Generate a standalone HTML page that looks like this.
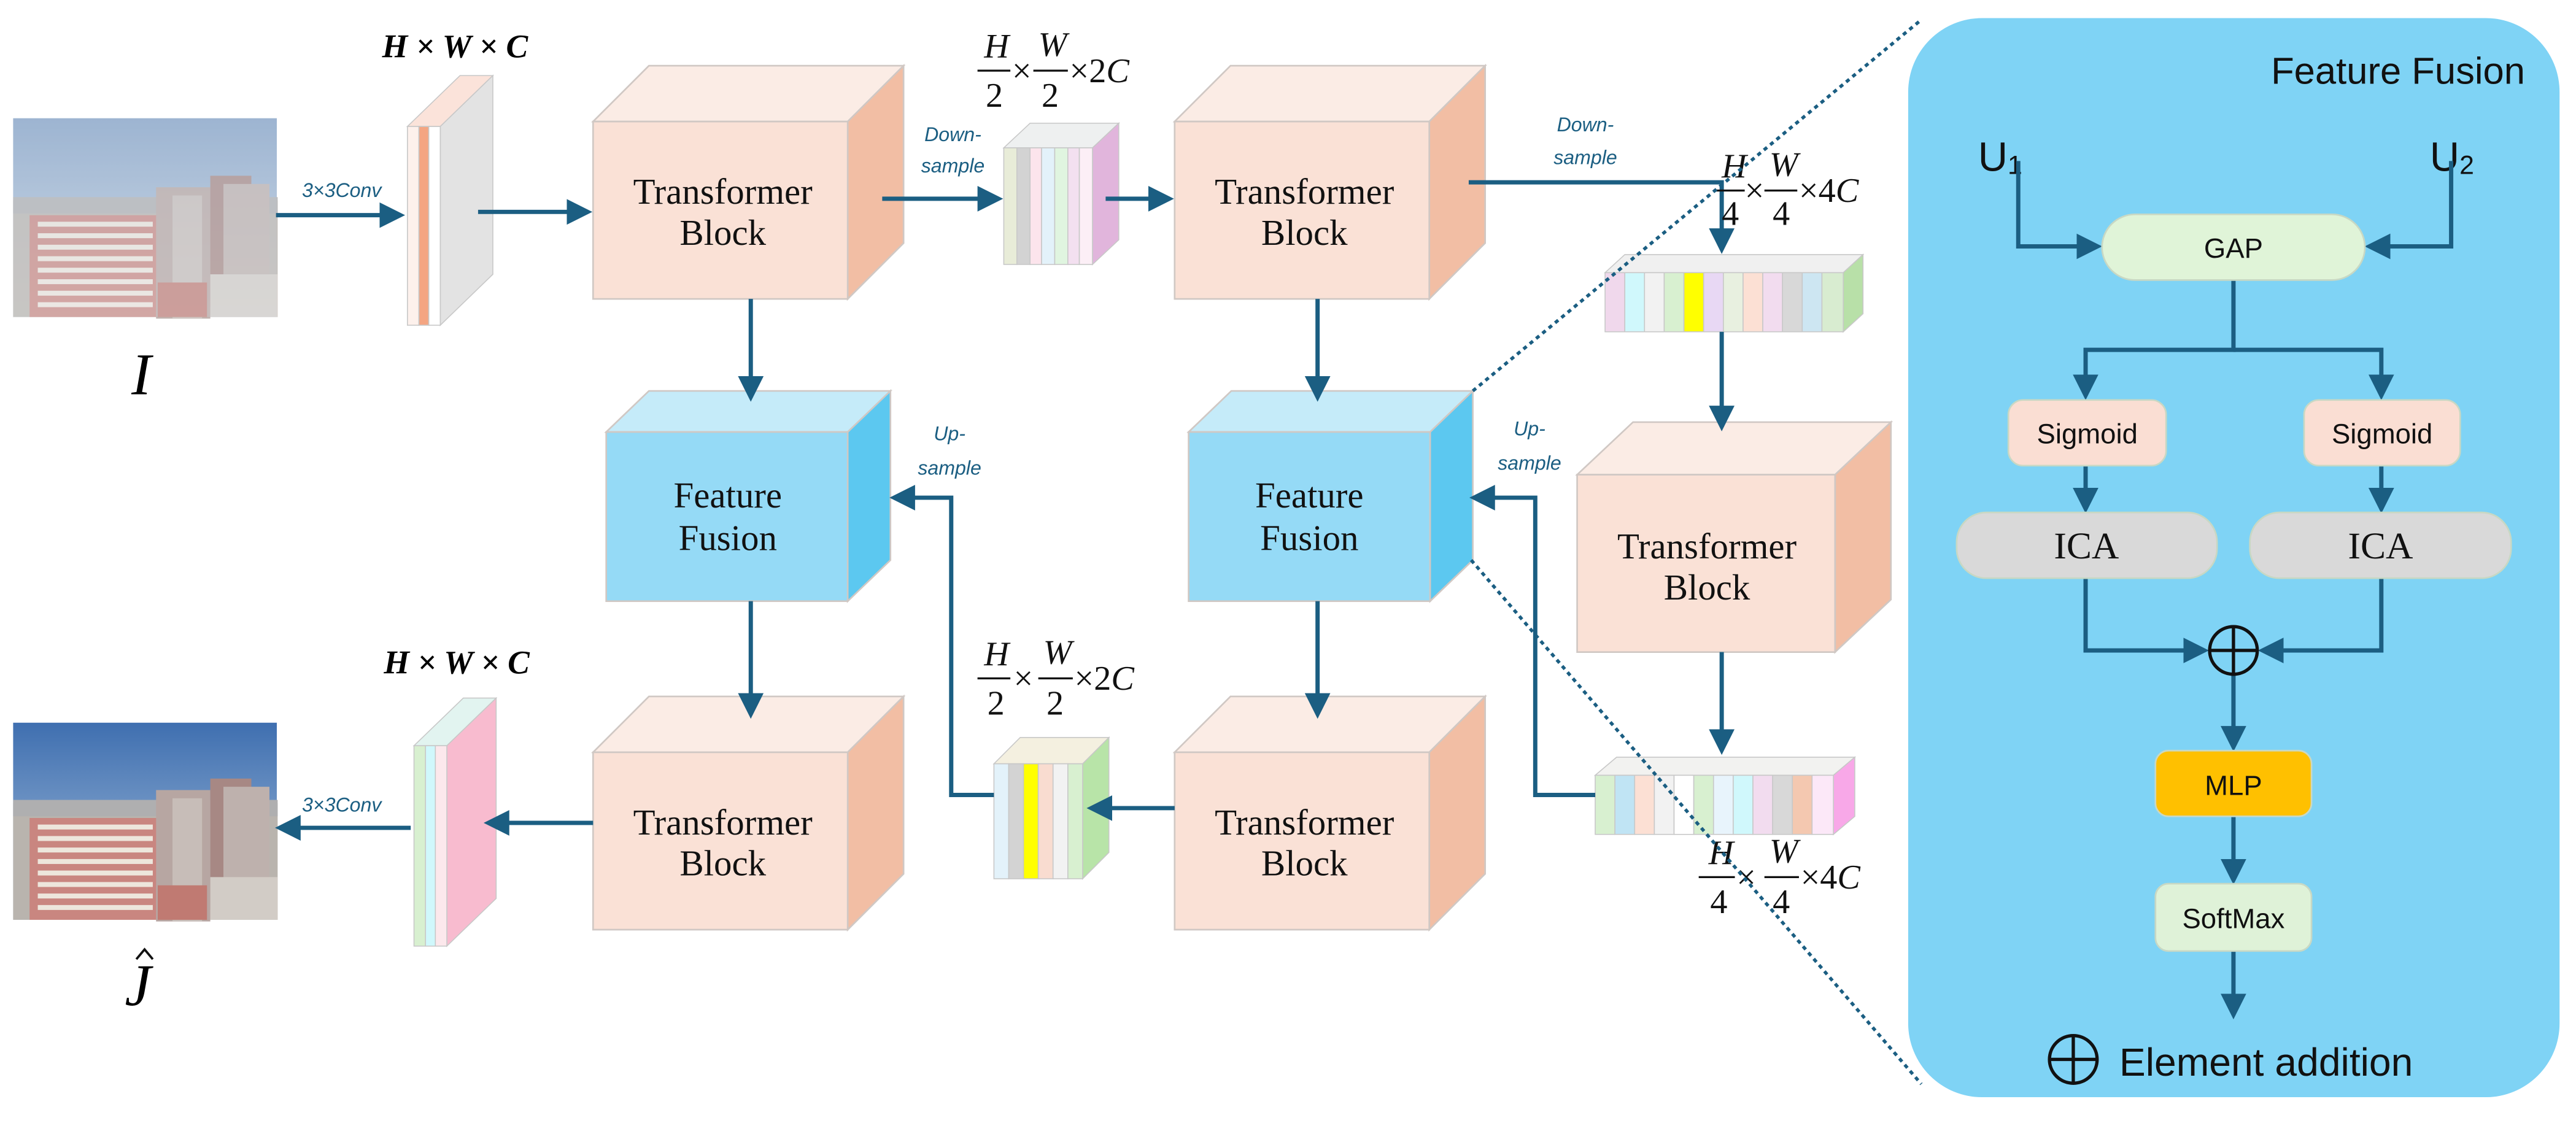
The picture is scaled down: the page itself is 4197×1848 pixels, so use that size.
<!DOCTYPE html>
<html><head><meta charset="utf-8"><style>html,body{margin:0;padding:0;background:#fff}svg{display:block}</style></head>
<body>
<svg xmlns="http://www.w3.org/2000/svg" width="4197" height="1848" viewBox="0 0 1568 690.4" preserveAspectRatio="none">
<defs>
<marker id="ah" markerWidth="6" markerHeight="6" refX="5" refY="3" orient="auto" markerUnits="strokeWidth"><path d="M0,0 L6,3 L0,6 z" fill="#1B5E82"/></marker>
<linearGradient id="sky" x1="0" y1="0" x2="0" y2="1"><stop offset="0" stop-color="#85A2C6"/><stop offset="1" stop-color="#C3D2E2"/></linearGradient>
<linearGradient id="sky2" x1="0" y1="0" x2="0" y2="1"><stop offset="0" stop-color="#3F6FB0"/><stop offset="1" stop-color="#A9C1DC"/></linearGradient>
<g id="city">
<rect x="0" y="50" width="161" height="71" fill="#B9B4AE"/>
<rect x="0" y="48" width="161" height="10" fill="#AFAFB0"/>
<rect x="10" y="59" width="80" height="62" fill="#C98680"/>
<g fill="#EDE6DC"><rect x="15" y="63" width="70" height="3"/><rect x="15" y="70" width="70" height="3"/><rect x="15" y="77" width="70" height="3"/><rect x="15" y="84" width="70" height="3"/><rect x="15" y="91" width="70" height="3"/><rect x="15" y="98" width="70" height="3"/><rect x="15" y="105" width="70" height="3"/><rect x="15" y="112" width="70" height="3"/></g>
<rect x="87" y="42" width="33" height="80" fill="#B7A6A2"/>
<rect x="97" y="47" width="18" height="75" fill="#C7BDB8"/>
<rect x="120" y="35" width="25" height="80" fill="#A78884"/>
<rect x="128" y="40" width="28" height="80" fill="#BEB1AD"/>
<rect x="120" y="95" width="41" height="26" fill="#D2CCC6"/>
<rect x="88" y="100" width="30" height="21" fill="#C07A72"/>
</g>
</defs>

<rect x="8" y="72" width="160.5" height="121" fill="url(#sky)"/>
<g transform="translate(8,72)" opacity="0.85"><use href="#city"/></g>
<rect x="8" y="72" width="160.5" height="121" fill="#fff" opacity="0.2"/>
<text x="86" y="240" font-family="Liberation Serif,serif" font-style="italic" font-size="36" text-anchor="middle">I</text>

<rect x="8" y="440" width="160.5" height="120" fill="url(#sky2)"/>
<g transform="translate(8,439)"><use href="#city"/></g>
<text x="84" y="612" font-family="Liberation Serif,serif" font-style="italic" font-size="36" text-anchor="middle">J</text>
<path d="M83,584 L88,578 L93,584" stroke="#111" stroke-width="1.4" fill="none"/>

<g font-family="Liberation Serif,serif" font-style="italic" font-weight="bold" font-size="20">
<text x="277" y="35" text-anchor="middle">H × W × C</text>
<text x="278" y="410" text-anchor="middle">H × W × C</text>
</g>

<g font-family="Liberation Sans,sans-serif" font-style="italic" font-size="12" fill="#1B5E82" text-anchor="middle">
<text x="208" y="120">3×3Conv</text>
<text x="208" y="494">3×3Conv</text>
<text x="580" y="86">Down-</text><text x="580" y="105">sample</text>
<text x="965" y="80">Down-</text><text x="965" y="100">sample</text>
<text x="578" y="268">Up-</text><text x="578" y="289">sample</text>
<text x="931" y="265">Up-</text><text x="931" y="286">sample</text>
</g>

<g stroke="#D0C8C4" stroke-width="1">
<g id="tb1">
<polygon points="361,74 395,40 550,40 516,74" fill="#FBECE5"/>
<polygon points="516,74 550,40 550,148 516,182" fill="#F2BEA4"/>
<rect x="361" y="74" width="155" height="108" fill="#FAE1D6"/>
</g>
<use href="#tb1" transform="translate(354,0)"/>
<use href="#tb1" transform="translate(0,384)"/>
<use href="#tb1" transform="translate(354,384)"/>
<g>
<polygon points="960,289 994,257 1151,257 1117,289" fill="#FBECE5"/>
<polygon points="1117,289 1151,257 1151,365 1117,397" fill="#F2BEA4"/>
<rect x="960" y="289" width="157" height="108" fill="#FAE1D6"/>
</g>
<g id="ff1">
<polygon points="369,263 395,238 542,238 516,263" fill="#C5EBF9"/>
<polygon points="516,263 542,238 542,341 516,366" fill="#5CC8F0"/>
<rect x="369" y="263" width="147" height="103" fill="#95DAF6"/>
</g>
<use href="#ff1" transform="translate(354.5,0)"/>
</g>
<g font-family="Liberation Serif,serif" font-size="22" text-anchor="middle" fill="#111">
<text x="440" y="124">Transformer</text><text x="440" y="149">Block</text>
<text x="794" y="124">Transformer</text><text x="794" y="149">Block</text>
<text x="440" y="508">Transformer</text><text x="440" y="533">Block</text>
<text x="794" y="508">Transformer</text><text x="794" y="533">Block</text>
<text x="1039" y="340">Transformer</text><text x="1039" y="365">Block</text>
<text x="443" y="309">Feature</text><text x="443" y="335">Fusion</text>
<text x="797" y="309">Feature</text><text x="797" y="335">Fusion</text>
</g>

<g stroke="#C8C8C8" stroke-width="0.6">
<polygon points="248,77 280,46 300,46 268,77" fill="#FBE3DA"/>
<polygon points="268,77 300,46 300,167 268,198" fill="#E3E3E3"/>
<rect x="248" y="77" width="7" height="121" fill="#FDF1EC"/><rect x="255" y="77" width="6" height="121" fill="#F4A582"/><rect x="261" y="77" width="7" height="121" fill="#FFFFFF"/>
<polygon points="252,454 282,425 302,425 272,454" fill="#E2F4F0"/>
<polygon points="272,454 302,425 302,547 272,576" fill="#F8BBCF"/>
<rect x="252" y="454" width="7" height="122" fill="#D8F0D0"/><rect x="259" y="454" width="6" height="122" fill="#D0F8FC"/><rect x="265" y="454" width="7" height="122" fill="#FCE8EC"/>
<polygon points="611,90 627,75 681,75 665,90" fill="#EEF0F0"/>
<polygon points="665,90 681,75 681,146 665,161" fill="#E1B5DC"/>
<rect x="611" y="90" width="8" height="71" fill="#E8ECD8"/><rect x="619" y="90" width="8" height="71" fill="#D3D3D3"/><rect x="627" y="90" width="7" height="71" fill="#FCE4EC"/><rect x="634" y="90" width="8" height="71" fill="#E3F2FA"/><rect x="642" y="90" width="8" height="71" fill="#E0F5E0"/><rect x="650" y="90" width="7" height="71" fill="#F3E0F0"/><rect x="657" y="90" width="8" height="71" fill="#FCEFF6"/>
<polygon points="605,465 621,449 675,449 659,465" fill="#F4F0E0"/>
<polygon points="659,465 675,449 675,519 659,535" fill="#B8E4A8"/>
<rect x="605" y="465" width="9" height="70" fill="#E3F2FA"/><rect x="614" y="465" width="9" height="70" fill="#D3D3D3"/><rect x="623" y="465" width="9" height="70" fill="#FFFF00"/><rect x="632" y="465" width="9" height="70" fill="#F9DCD0"/><rect x="641" y="465" width="9" height="70" fill="#F2F2F2"/><rect x="650" y="465" width="9" height="70" fill="#D8F0D0"/>
<polygon points="977,166 989,155 1134,155 1122,166" fill="#F0F0F0"/>
<polygon points="1122,166 1134,155 1134,191 1122,202" fill="#B8E0A8"/>
<rect x="977" y="166" width="12" height="36" fill="#F0D8EC"/><rect x="989" y="166" width="12" height="36" fill="#D0F8FC"/><rect x="1001" y="166" width="12" height="36" fill="#F2F2F2"/><rect x="1013" y="166" width="12" height="36" fill="#D8F0D0"/><rect x="1025" y="166" width="12" height="36" fill="#FFFF00"/><rect x="1037" y="166" width="12" height="36" fill="#E8D8F4"/><rect x="1049" y="166" width="12" height="36" fill="#E8F0E0"/><rect x="1061" y="166" width="12" height="36" fill="#FCE0D4"/><rect x="1073" y="166" width="12" height="36" fill="#F2DCEF"/><rect x="1085" y="166" width="12" height="36" fill="#D8D8D8"/><rect x="1097" y="166" width="12" height="36" fill="#CDE6F2"/><rect x="1109" y="166" width="13" height="36" fill="#D8ECD0"/>
<polygon points="971,472 984,461 1129,461 1116,472" fill="#F2F2F0"/>
<polygon points="1116,472 1129,461 1129,497 1116,508" fill="#F8A8E8"/>
<rect x="971" y="472" width="12" height="36" fill="#D8F0D0"/><rect x="983" y="472" width="12" height="36" fill="#C0E4F4"/><rect x="995" y="472" width="12" height="36" fill="#FCE0D4"/><rect x="1007" y="472" width="12" height="36" fill="#F2F2F2"/><rect x="1019" y="472" width="12" height="36" fill="#FFFFFF"/><rect x="1031" y="472" width="12" height="36" fill="#D8F0D0"/><rect x="1043" y="472" width="12" height="36" fill="#E8F4FC"/><rect x="1055" y="472" width="12" height="36" fill="#D0F8FC"/><rect x="1067" y="472" width="12" height="36" fill="#F2DCEF"/><rect x="1079" y="472" width="12" height="36" fill="#D8D8D8"/><rect x="1091" y="472" width="12" height="36" fill="#F4C8B0"/><rect x="1103" y="472" width="13" height="36" fill="#FCE8F8"/>
</g>

<g stroke="#1B5E82" stroke-width="2.6" fill="none" marker-end="url(#ah)">
<line x1="168" y1="131" x2="244" y2="131"/>
<line x1="291" y1="129" x2="358" y2="129"/>
<line x1="537" y1="121" x2="608" y2="121"/>
<line x1="673" y1="121" x2="712" y2="121"/>
<polyline points="894,111 1048,111 1048,152"/>
<line x1="457" y1="182" x2="457" y2="242"/>
<line x1="802" y1="182" x2="802" y2="242"/>
<line x1="1048" y1="202" x2="1048" y2="260"/>
<line x1="1048" y1="397" x2="1048" y2="457"/>
<line x1="457" y1="366" x2="457" y2="435"/>
<line x1="802" y1="366" x2="802" y2="435"/>
<polyline points="971,484 934.5,484 934.5,303 897,303"/>
<polyline points="605,484 579,484 579,303 544,303"/>
<line x1="715" y1="492" x2="664" y2="492"/>
<line x1="361" y1="501" x2="297" y2="501"/>
<line x1="250" y1="504" x2="170" y2="504"/>
</g>

<g font-family="Liberation Serif,serif" font-style="italic" font-size="21" fill="#111">
<g transform="translate(595,17)">
<text x="4" y="18">H</text><line x1="0" y1="26" x2="20" y2="26" stroke="#111" stroke-width="1.2"/><text x="5" y="48" font-style="normal">2</text>
<text x="21" y="33" font-style="normal">×</text>
<text x="37" y="17">W</text><line x1="34" y1="26" x2="55" y2="26" stroke="#111" stroke-width="1.2"/><text x="39" y="48" font-style="normal">2</text>
<text x="56" y="33"><tspan font-style="normal">×2</tspan>C</text>
</g>
<g transform="translate(595,387)">
<text x="4" y="18">H</text><line x1="0" y1="26" x2="20" y2="26" stroke="#111" stroke-width="1.2"/><text x="6" y="48" font-style="normal">2</text>
<text x="22" y="33" font-style="normal">×</text>
<text x="40" y="17">W</text><line x1="37" y1="26" x2="58" y2="26" stroke="#111" stroke-width="1.2"/><text x="42" y="48" font-style="normal">2</text>
<text x="59" y="33"><tspan font-style="normal">×2</tspan>C</text>
</g>
<g transform="translate(1044,91)">
<text x="4" y="17">H</text><line x1="0" y1="25" x2="18" y2="25" stroke="#111" stroke-width="1.2"/><text x="4" y="46" font-style="normal">4</text>
<text x="18" y="32" font-style="normal">×</text>
<text x="33" y="16">W</text><line x1="30" y1="25" x2="50" y2="25" stroke="#111" stroke-width="1.2"/><text x="35" y="46" font-style="normal">4</text>
<text x="51" y="32"><tspan font-style="normal">×4</tspan>C</text>
</g>
<g transform="translate(1034,509)">
<text x="6" y="17">H</text><line x1="0" y1="25" x2="22" y2="25" stroke="#111" stroke-width="1.2"/><text x="7" y="47" font-style="normal">4</text>
<text x="23" y="32" font-style="normal">×</text>
<text x="43" y="16">W</text><line x1="40" y1="25" x2="61" y2="25" stroke="#111" stroke-width="1.2"/><text x="45" y="47" font-style="normal">4</text>
<text x="62" y="32"><tspan font-style="normal">×4</tspan>C</text>
</g>
</g>

<rect x="1161.5" y="11" width="396.5" height="657" rx="45" ry="45" fill="#7FD3F5"/>
<g stroke="#1B5E82" stroke-width="2" stroke-dasharray="2.5,2.5" fill="none">
<line x1="896.5" y1="238" x2="1169.5" y2="12"/>
<line x1="895.5" y1="341" x2="1169.5" y2="660"/>
</g>
<g font-family="Liberation Sans,sans-serif" fill="#111">
<text x="1537" y="51" font-size="23" text-anchor="end">Feature Fusion</text>
<text x="1204" y="104" font-size="25">U<tspan font-size="16" dy="2">1</tspan></text>
<text x="1479" y="104" font-size="25">U<tspan font-size="16" dy="2">2</tspan></text>
</g>
<g stroke="#1B5E82" stroke-width="2.6" fill="none" marker-end="url(#ah)">
<polyline points="1228.5,98 1228.5,150 1277,150"/>
<polyline points="1492,98 1492,150 1442,150"/>
<polyline points="1359.5,170 1359.5,213 1269.5,213 1269.5,241"/>
<polyline points="1359.5,213 1449.5,213 1449.5,241"/>
<line x1="1269.5" y1="284" x2="1269.5" y2="310"/>
<line x1="1449.5" y1="284" x2="1449.5" y2="310"/>
<polyline points="1269.5,352 1269.5,396 1342,396"/>
<polyline points="1449.5,352 1449.5,396 1377,396"/>
<line x1="1359.5" y1="411" x2="1359.5" y2="455"/>
<line x1="1359.5" y1="497" x2="1359.5" y2="536"/>
<line x1="1359.5" y1="579" x2="1359.5" y2="618"/>
</g>
<g stroke="#C8D8C4" stroke-width="1">
<rect x="1279.5" y="130.5" width="160" height="40" rx="20" fill="#E0F4D8"/>
<rect x="1222.5" y="243.5" width="96" height="40" rx="9" fill="#FADED3"/>
<rect x="1402.5" y="243.5" width="95" height="40" rx="9" fill="#FADED3"/>
<rect x="1191" y="312" width="158.5" height="40" rx="18" fill="#D9D9D9"/>
<rect x="1369.5" y="312" width="159" height="40" rx="18" fill="#D9D9D9"/>
<rect x="1312" y="457" width="95" height="40" rx="8" fill="#FFC000"/>
<rect x="1312" y="538" width="95" height="41" rx="8" fill="#DFF2D8"/>
</g>
<g font-family="Liberation Sans,sans-serif" font-size="17" fill="#111" text-anchor="middle">
<text x="1359.5" y="157">GAP</text>
<text x="1270.5" y="270">Sigmoid</text>
<text x="1450" y="270">Sigmoid</text>
<text x="1359.5" y="484">MLP</text>
<text x="1359.5" y="565">SoftMax</text>
</g>
<g font-family="Liberation Serif,serif" font-size="23" fill="#111" text-anchor="middle">
<text x="1270" y="340">ICA</text><text x="1449" y="340">ICA</text>
</g>
<g stroke="#111" stroke-width="2" fill="none">
<circle cx="1359.5" cy="396" r="14.5"/><line x1="1345" y1="396" x2="1374" y2="396"/><line x1="1359.5" y1="381.5" x2="1359.5" y2="410.5"/>
<circle cx="1262" cy="645" r="14.5"/><line x1="1247.5" y1="645" x2="1276.5" y2="645"/><line x1="1262" y1="630.5" x2="1262" y2="659.5"/>
</g>
<text x="1290" y="655" font-family="Liberation Sans,sans-serif" font-size="24" fill="#111">Element addition</text>
</svg>
</body></html>
